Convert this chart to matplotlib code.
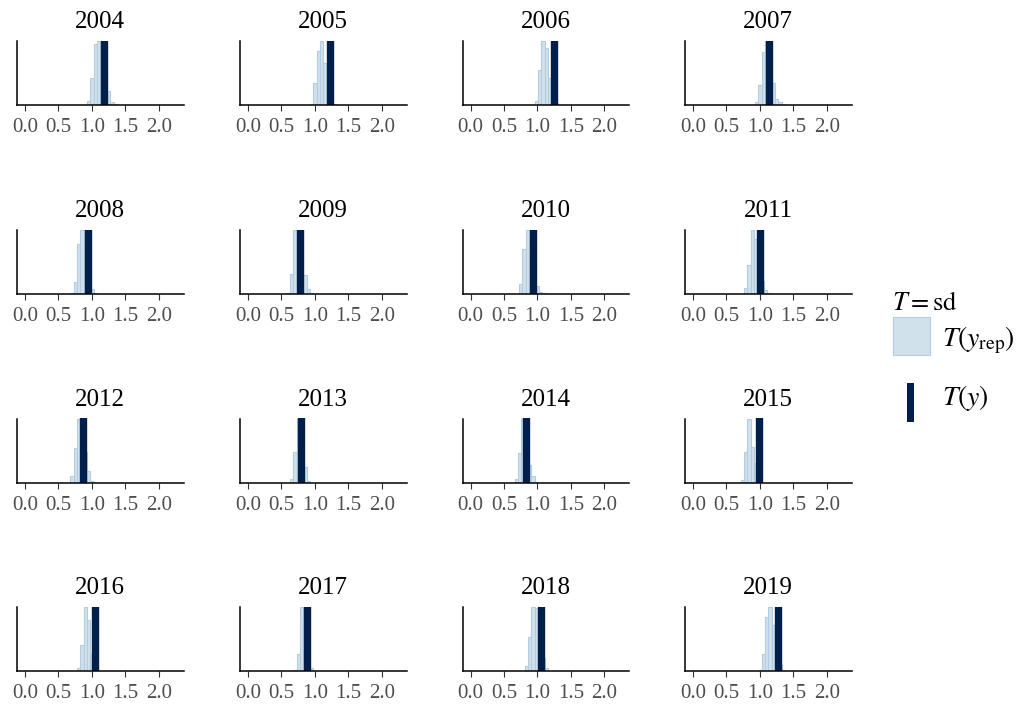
import matplotlib
matplotlib.use("Agg")
import matplotlib.pyplot as plt
from matplotlib.patches import Rectangle

plt.rcParams["font.family"] = ["Liberation Serif", "DejaVu Serif"]
plt.rcParams["mathtext.fontset"] = "stix"

years = ["2004", "2005", "2006", "2007", "2008", "2009", "2010", "2011",
         "2012", "2013", "2014", "2015", "2016", "2017", "2018", "2019"]

# left edge of the first bin in each panel (bin width 0.05)
bin_start = [0.925, 0.925, 0.96, 0.925, 0.675, 0.575, 0.725, 0.76,
             0.675, 0.625, 0.66, 0.71, 0.775, 0.675, 0.81, 0.975]

# relative heights of the T(y_rep) histogram bins
bin_heights = [
    [0.07, 0.42, 0.96, 1.0, 0.9, 0.6, 0.22, 0.05, 0.015],
    [0.02, 0.35, 0.84, 1.0, 0.65, 0.3, 0.1, 0.01],
    [0.06, 0.55, 1.0, 0.89, 0.42, 0.2, 0.03],
    [0.05, 0.31, 0.83, 1.0, 0.7, 0.35, 0.1, 0.04, 0.01],
    [0.01, 0.18, 0.78, 1.0, 0.7, 0.3, 0.08, 0.02],
    [0.02, 0.31, 1.0, 0.9, 0.6, 0.3, 0.08, 0.01],
    [0.15, 0.71, 1.0, 0.75, 0.4, 0.13, 0.03, 0.01],
    [0.1, 0.45, 1.0, 0.86, 0.5, 0.2, 0.06, 0.01],
    [0.1, 0.54, 1.0, 0.9, 0.47, 0.18, 0.03],
    [0.06, 0.47, 1.0, 0.7, 0.24, 0.03],
    [0.06, 0.46, 1.0, 0.9, 0.28, 0.1, 0.01],
    [0.04, 0.48, 1.0, 0.56, 0.3, 0.1],
    [0.04, 0.4, 1.0, 0.79, 0.27, 0.05],
    [0.01, 0.26, 1.0, 0.85, 0.35, 0.05],
    [0.08, 0.53, 1.0, 0.98, 0.6, 0.2, 0.05],
    [0.02, 0.26, 0.85, 1.0, 0.72, 0.35, 0.1, 0.01],
]

# observed statistic T(y) = sd per year
t_obs = [1.18, 1.23, 1.25, 1.13, 0.94, 0.78, 0.94, 1.005,
         0.865, 0.79, 0.83, 0.98, 1.05, 0.88, 1.05, 1.27]

x_ticks = [0.0, 0.5, 1.0, 1.5, 2.0]
binwidth = 0.05

light = "#d1e1ec"
light_edge = "#b3cde0"
dark = "#011f4b"

W, H = 1032, 707
fig = plt.figure(figsize=(W / 100, H / 100), dpi=100)

col_left = [17, 240, 462.5, 685]
row_top = [41, 230, 418.5, 607]
aw, ah = 166.5, 64

for i, yr in enumerate(years):
    r, c = divmod(i, 4)
    ax = fig.add_axes([col_left[c] / W, 1 - (row_top[r] + ah) / H, aw / W, ah / H])
    edges = [bin_start[i] + k * binwidth for k in range(len(bin_heights[i]))]
    ax.bar(edges, bin_heights[i], width=binwidth, align="edge",
           color=light, edgecolor=light_edge, linewidth=0.8, zorder=1)
    ax.axvline(t_obs[i], color=dark, linewidth=5.3, zorder=2)
    ax.set_xlim(-0.12, 2.37)
    ax.set_ylim(0, 1.0)
    ax.set_xticks(x_ticks)
    ax.set_xticklabels([f"{t:.1f}" for t in x_ticks])
    ax.set_yticks([])
    ax.tick_params(axis="x", length=4, width=0.8, color="#333333",
                   labelcolor="#4d4d4d", labelsize=15, pad=5.5)
    for s in ["top", "right"]:
        ax.spines[s].set_visible(False)
    for s in ["left", "bottom"]:
        ax.spines[s].set_linewidth(1.1)
        ax.spines[s].set_color("black")
    ax.set_title(yr, fontsize=18, pad=9)
    ax.patch.set_visible(False)

# legend, drawn by hand in figure pixels (y measured from the top)
def place(txt, left, cy, size):
    t = fig.text(0, 0, txt, fontsize=size, ha="left", va="bottom",
                 transform=None)
    fig.canvas.draw()
    bb = t.get_window_extent()
    t.set_position((left, (H - cy) - bb.height / 2))
    return t

place(r"$T = \mathrm{sd}$", 892, 304, 19)
fig.add_artist(Rectangle((893 / W, 1 - 355 / H), 37 / W, 38 / H, transform=fig.transFigure,
                         facecolor=light, edgecolor=light_edge, linewidth=0.8))
place(r"$T\left(y_{\mathrm{rep}}\right)$", 942, 340, 20)
fig.add_artist(Rectangle((907 / W, 1 - 422 / H), 7 / W, 39 / H, transform=fig.transFigure,
                         facecolor=dark, edgecolor="none"))
place(r"$T\left(y\right)$", 942, 398, 20)

fig.savefig("out.png", dpi=100)
